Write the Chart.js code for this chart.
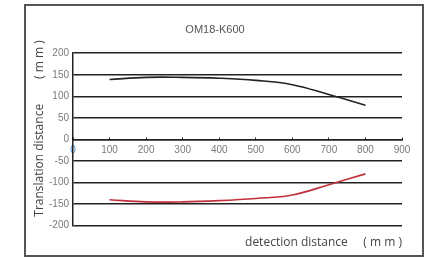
<!DOCTYPE html>
<html>
<head>
<meta charset="utf-8">
<script src="https://cdn.jsdelivr.net/npm/chart.js@4.4.0/dist/chart.umd.min.js"></script>
<style>
  html, body { margin: 0; padding: 0; background: #fff; }
  #box {
    position: absolute;
    left: 24px; top: 4px;
    width: 396px; height: 249px;
    border: 2px solid #555;
  }
  #chart { display: block; }
</style>
</head>
<body>
<div id="box"><canvas id="chart" width="396" height="249"></canvas></div>
<script>
const distances = [100, 200, 300, 400, 500, 600, 700, 800];
const upperOffset = [139, 144, 144, 142, 137, 127, 104, 79];
const lowerOffset = [-140, -145, -145, -142, -137, -129, -105, -80];

const titleText = 'OM18-K600';
const yTitle = '       Translation distance        ( m m )';
const xTitle = 'detection distance     ( m m )';

const tickColor = '#7a7a7a';

const ctx = document.getElementById('chart').getContext('2d');

const chart = new Chart(ctx, {
    type: 'line',
    data: {
        datasets: [
            {
                label: 'upper',
                data: distances.map((d, i) => ({ x: d, y: upperOffset[i] })),
                borderColor: '#222',
                borderWidth: 1.6,
                pointRadius: 0,
                tension: 0.4
            },
            {
                label: 'lower',
                data: distances.map((d, i) => ({ x: d, y: lowerOffset[i] })),
                borderColor: '#c0303a',
                borderWidth: 1.6,
                pointRadius: 0,
                tension: 0.4
            }
        ]
    },
    options: {
        responsive: false,
        animation: false,
        layout: { padding: { left: 2, right: 20, top: 0, bottom: 5 } },
        plugins: {
            legend: { display: false },
            tooltip: { enabled: false },
            title: {
                display: true,
                text: titleText,
                color: '#555',
                font: { family: 'Liberation Sans', size: 11, weight: 'normal' },
                padding: { top: 17, bottom: 17 }
            }
        },
        scales: {
            x: {
                type: 'linear',
                position: { y: 0 },
                min: 0,
                max: 900,
                ticks: {
                    stepSize: 100,
                    color: c => c.tick && c.tick.value === 0 ? '#4a8fd0' : tickColor,
                    font: { family: 'Liberation Sans Narrow, Liberation Sans', size: 10 },
                    padding: 8,
                    maxRotation: 0
                },
                grid: {
                    drawOnChartArea: false,
                    drawTicks: true,
                    tickLength: -3,
                    color: '#222',
                    lineWidth: 1
                },
                border: { color: '#222', width: 1.5 }
            },
            x2: {
                type: 'linear',
                position: 'bottom',
                min: 0,
                max: 900,
                ticks: { display: false },
                grid: { display: false },
                border: { display: false },
                title: {
                    display: true,
                    text: xTitle,
                    align: 'end',
                    color: '#444',
                    font: { family: 'Open Sans', size: 12 },
                    padding: { top: 2, bottom: 0 }
                }
            },
            y: {
                min: -200,
                max: 200,
                ticks: {
                    stepSize: 50,
                    color: tickColor,
                    font: { family: 'Liberation Sans Narrow, Liberation Sans', size: 10 },
                    padding: 4
                },
                grid: {
                    color: '#222',
                    lineWidth: 1.5,
                    drawTicks: false
                },
                border: { color: '#222', width: 1.5 },
                title: {
                    display: true,
                    text: yTitle,
                    color: '#444',
                    font: { family: 'Open Sans', size: 12 },
                    padding: { top: 4, bottom: 2 }
                },
                afterFit: s => { s.width = 45; }
            }
        }
    }
});
</script>
</body>
</html>
